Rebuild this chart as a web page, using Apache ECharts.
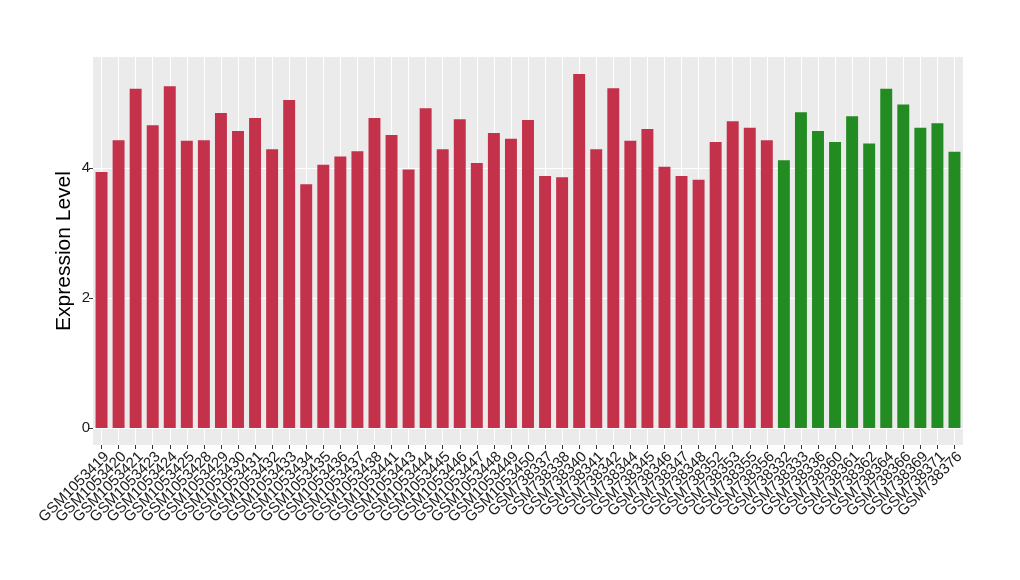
<!DOCTYPE html>
<html><head><meta charset="utf-8">
<script src="https://cdn.jsdelivr.net/npm/echarts@6/dist/echarts.min.js"></script>
<style>html,body{margin:0;padding:0;background:#fff}#c{width:1020px;height:580px}</style>
</head><body><div id="c"></div>
<script>
const categories = ["GSM1053419","GSM1053420","GSM1053421","GSM1053423","GSM1053424","GSM1053425","GSM1053428","GSM1053429","GSM1053430","GSM1053431","GSM1053432","GSM1053433","GSM1053434","GSM1053435","GSM1053436","GSM1053437","GSM1053438","GSM1053441","GSM1053443","GSM1053444","GSM1053445","GSM1053446","GSM1053447","GSM1053448","GSM1053449","GSM1053450","GSM738337","GSM738338","GSM738340","GSM738341","GSM738342","GSM738344","GSM738345","GSM738346","GSM738347","GSM738348","GSM738352","GSM738353","GSM738355","GSM738356","GSM738332","GSM738333","GSM738336","GSM738360","GSM738361","GSM738362","GSM738364","GSM738366","GSM738369","GSM738371","GSM738376"];
const values = [3.94,4.43,5.22,4.66,5.26,4.42,4.43,4.85,4.57,4.77,4.29,5.05,3.75,4.05,4.18,4.26,4.77,4.51,3.98,4.92,4.29,4.75,4.08,4.54,4.45,4.74,3.88,3.86,5.45,4.29,5.23,4.42,4.60,4.02,3.88,3.82,4.40,4.72,4.62,4.43,4.12,4.86,4.57,4.40,4.80,4.38,5.22,4.98,4.62,4.69,4.25];
const groups = ["A","A","A","A","A","A","A","A","A","A","A","A","A","A","A","A","A","A","A","A","A","A","A","A","A","A","A","A","A","A","A","A","A","A","A","A","A","A","A","A","B","B","B","B","B","B","B","B","B","B","B"];
const groupColors = {A:"#C3314A", B:"#228B22"};
const yTickLabels = [0,2,4];

const chart = echarts.init(document.getElementById('c'));
const font = "Liberation Sans, Arial, sans-serif";
chart.setOption({
  animation:false,
  backgroundColor:'#fff',
  grid:[
    {left:93,right:57,top:57,bottom:135,show:true,backgroundColor:'#EBEBEB',borderWidth:0},
    {left:93,right:57,top:57,bottom:152}
  ],
  xAxis:[
    {type:'category',gridIndex:0,data:categories,
     axisLine:{show:false},
     axisTick:{show:true,alignWithLabel:true,length:4,lineStyle:{color:'#333'}},
     axisLabel:{interval:0,rotate:45,fontSize:15,color:'#1a1a1a',fontFamily:font,margin:4,verticalAlign:'top'},
     splitLine:{show:true,alignWithLabel:true,interval:0,lineStyle:{color:'#fff',width:1}}},
    {type:'category',gridIndex:1,data:categories,show:false}
  ],
  yAxis:[
    {type:'value',gridIndex:0,min:0,max:1,
     name:'Expression Level',nameLocation:'middle',nameGap:18,
     nameTextStyle:{fontSize:21,color:'#000',fontFamily:font},
     axisLine:{show:false},axisTick:{show:false},axisLabel:{show:false},splitLine:{show:false}},
    {type:'value',gridIndex:1,min:0,max:5.71,interval:1,
     axisLine:{show:false},
     axisTick:{show:true,length:4,customValues:yTickLabels,lineStyle:{color:'#333'}},
     axisLabel:{customValues:yTickLabels,fontSize:15,color:'#1a1a1a',fontFamily:font,margin:3},
     splitLine:{show:true,lineStyle:{color:'#fff',width:1}}}
  ],
  series:[{
    type:'bar',xAxisIndex:1,yAxisIndex:1,
    data:values.map((v,i)=>({value:v,itemStyle:{color:groupColors[groups[i]]}})),
    barCategoryGap:'30%'
  }]
});
</script></body></html>
